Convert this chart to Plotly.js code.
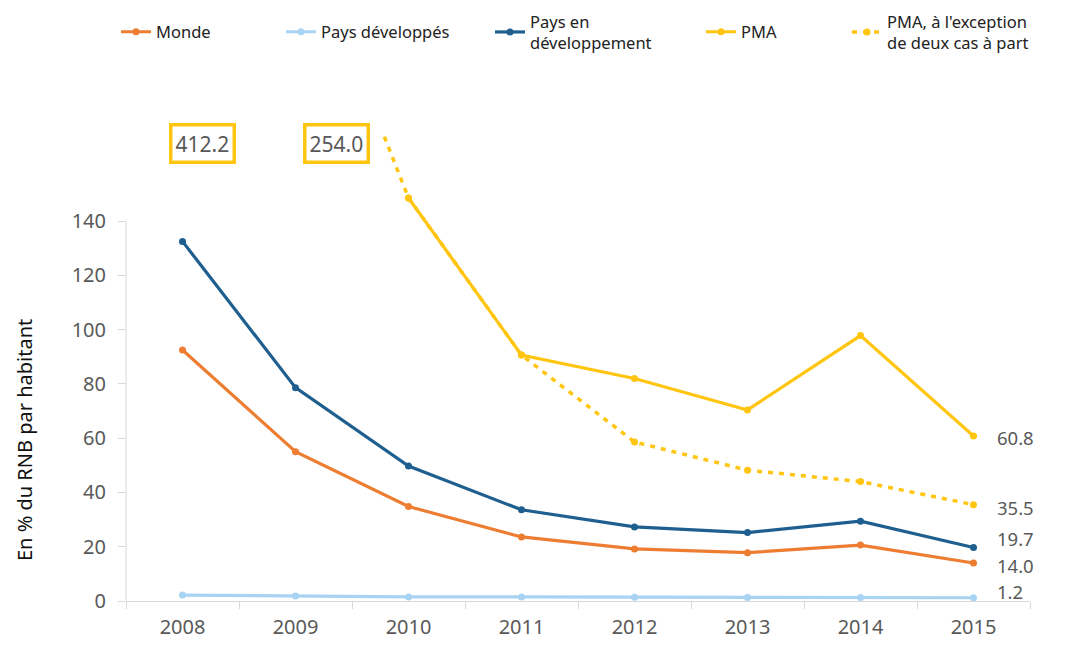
<!DOCTYPE html>
<html><head><meta charset="utf-8">
<script src="https://cdn.plot.ly/plotly-3.0.1.min.js"></script>
<style>html,body{margin:0;padding:0;background:#fff}#chart{width:1070px;height:646px}</style>
</head><body><div id="chart"></div>
<script>
const years = ["2008","2009","2010","2011","2012","2013","2014","2015"];
const monde = [92.5, 55.0, 34.8, 23.6, 19.2, 17.8, 20.6, 14.0];
const paysDeveloppes = [2.2, 1.8, 1.5, 1.5, 1.4, 1.3, 1.3, 1.2];
const paysEnDev = [132.5, 78.6, 49.7, 33.6, 27.3, 25.2, 29.4, 19.7];
const pma = [null, null, 148.5, 90.6, 82.0, 70.4, 97.8, 60.8];
const pmaHorsCas = [null, 254.0, 148.5, 90.6, 58.6, 48.2, 44.0, 35.5];
const offChart = [{year:"2008", label:"412.2"}, {year:"2009", label:"254.0"}];
const endLabels = ["60.8","35.5","19.7","14.0","1.2"];
const names = ["Monde","Pays développés","Pays en<br>développement","PMA","PMA, à l'exception<br>de deux cas à part"];

const cOr="#ED7D31", cLb="#A9D3F2", cDb="#1F5F8F", cY="#FFC510";
const font = "Noto Sans, Open Sans, sans-serif";
const gray = "#595959";

function tr(y, name, color, legend, extra){
  return Object.assign({type:"scatter", mode:"lines+markers", x:years, y:y, name:name,
    line:{color:color, width:3.2}, marker:{color:color, size:7}, cliponaxis:false, legend:legend}, extra||{});
}
const data = [
  tr(pmaHorsCas, names[4], cY, "legend5", {line:{color:cY,width:3.5,dash:"5px,6px"}, cliponaxis:true}),
  tr(pma, names[3], cY, "legend4", {cliponaxis:true}),
  tr(paysDeveloppes, names[1], cLb, "legend2"),
  tr(monde, names[0], cOr, "legend"),
  tr(paysEnDev, names[2], cDb, "legend3"),
];

const W=904, H=466;
function lg(px){return {orientation:"h", x:(px-126)/W, xanchor:"left", y:(601-32)/H, yanchor:"middle",
  font:{family:font,size:16.5,color:"#222"}, bgcolor:"rgba(0,0,0,0)", itemwidth:30};}

const ann = [];
const boxX = {"2008":202, "2009":336};
offChart.forEach(o=>ann.push({xref:"paper", yref:"paper", x:(boxX[o.year]-126)/W, y:(601-144)/H,
  xanchor:"center", yanchor:"middle",
  text:o.label, showarrow:false, font:{family:font,size:21,color:gray},
  bordercolor:cY, borderwidth:3.5, borderpad:3, bgcolor:"#fff"}));
const endVals=[pma[7], pmaHorsCas[7], paysEnDev[7], monde[7], paysDeveloppes[7]];
const ysh=[-2,-3,9.5,-2,6];
endLabels.forEach((t,i)=>ann.push({xref:"x", yref:"y", x:7, y:endVals[i], xshift:22, yshift:ysh[i],
  xanchor:"left", yanchor:"middle", text:t, showarrow:false, borderpad:0,
  font:{family:font,size:18.5,color:gray}}));
ann.push({xref:"paper", yref:"paper", x:(24-126)/W, y:(601-440)/H, xanchor:"center", yanchor:"middle",
  text:"En % du RNB par habitant",
  textangle:-90, showarrow:false, font:{family:font,size:20,color:"#111"}});

const layout = {
  width:1070, height:646, margin:{l:126, r:40, t:135, b:45, autoexpand:false},
  paper_bgcolor:"#fff", plot_bgcolor:"#fff",
  showlegend:true,
  legend:lg(116), legend2:lg(281), legend3:lg(490), legend4:lg(701), legend5:lg(847),
  xaxis:{type:"category", range:[-0.5,7.5], tickson:"boundaries", ticks:"outside", ticklen:7,
    tickcolor:"#d9d9d9", showline:true, linecolor:"#d9d9d9", linewidth:1, showgrid:false, zeroline:false,
    ticklabelstandoff:8, automargin:false,
    tickfont:{family:font,size:20,color:gray}, fixedrange:true},
  yaxis:{range:[0,171.7], tickvals:[0,20,40,60,80,100,120,140], ticks:"outside", ticklen:7,
    tickcolor:"#d9d9d9", showline:false, showgrid:false, zeroline:false, ticklabelstandoff:8, automargin:false,
    tickfont:{family:font,size:20,color:gray}, fixedrange:true},
  shapes:[{type:"line", xref:"paper", yref:"y", x0:0, x1:0, y0:0, y1:140, line:{color:"#d9d9d9", width:1}}],
  annotations:ann
};
Plotly.newPlot("chart", data, layout, {displayModeBar:false, staticPlot:true});
</script></body></html>
